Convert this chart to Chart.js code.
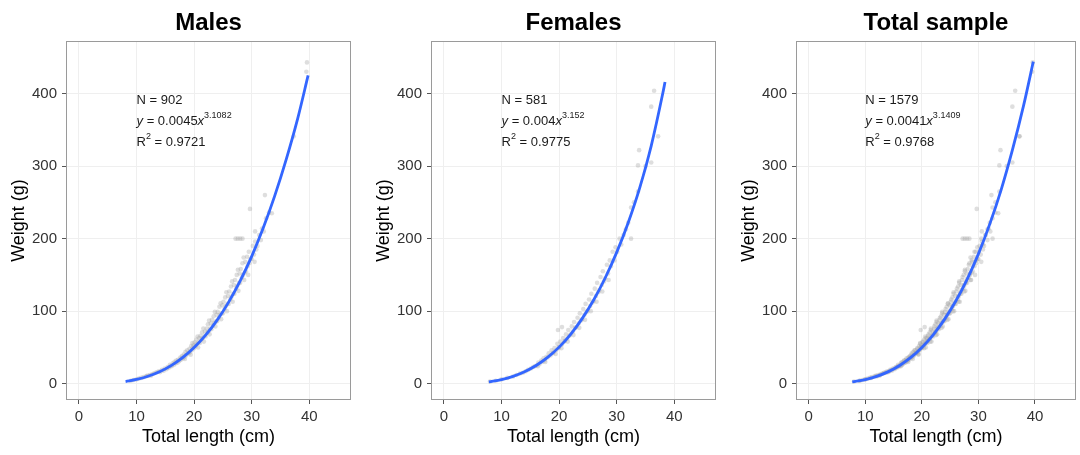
<!DOCTYPE html>
<html>
<head>
<meta charset="utf-8">
<script src="https://cdn.jsdelivr.net/npm/chart.js@4.4.1/dist/chart.umd.min.js"></script>
<style>
body { margin:0; background:#fff; width:1080px; height:455px; overflow:hidden; position:relative; }
canvas { position:absolute; top:0; }
</style>
</head>
<body>
<canvas id="males" width="360" height="455" style="left:0px"></canvas>
<canvas id="females" width="360" height="455" style="left:365px"></canvas>
<canvas id="total" width="350" height="455" style="left:730px"></canvas>
<script>
// ----------------------------------------------------------------------
// length-weight data: [total length cm, weight g]
// ----------------------------------------------------------------------
const xTicks = [0, 10, 20, 30, 40]
const yTicks = [0, 100, 200, 300, 400]

const malePts = [
	[9,4], [9.5,5], [10,6], [10.4,7], [10.8,8], [11.2,9], [11.6,10], [11.8,11], [12,11], [12.3,12],
	[12.5,11], [12.7,13], [13,14], [13.3,15], [13.6,16], [13.9,17],
	[14.1,16], [14.4,19], [14.7,18], [14.9,21],
	[15.2,20], [15.4,23], [15.6,22], [15.8,26], [15.9,24],
	[16.1,24], [16.3,28], [16.5,26], [16.6,30], [16.8,28], [16.9,32],
	[17.1,29], [17.2,33], [17.4,31], [17.6,36], [17.7,33], [17.9,38], [17.8,35],
	[18.1,35], [18.2,40], [18.3,37], [18.5,44], [18.6,39], [18.8,46], [18.9,42], [18.4,34],
	[19.1,42], [19.2,48], [19.3,44], [19.5,52], [19.6,46], [19.7,56], [19.8,50], [19.4,40], [19.9,53],
	[20.0,49], [20.1,57], [20.3,52], [20.4,61], [20.5,55], [20.6,65], [20.8,57], [20.9,63], [20.7,50],
	[21.0,56], [21.1,66], [21.3,61], [21.4,71], [21.5,63], [21.6,76], [21.8,66], [21.9,72], [21.7,58],
	[22.0,65], [22.2,76], [22.3,70], [22.4,82], [22.5,72], [22.6,87], [22.8,76], [22.9,83], [22.7,68],
	[23.0,75], [23.1,88], [23.3,80], [23.4,93], [23.5,84], [23.6,99], [23.8,86], [23.9,95], [23.7,79],
	[24.0,86], [24.1,99], [24.3,91], [24.4,106], [24.5,95], [24.6,111], [24.8,97], [24.9,108], [24.7,89],
	[25.0,97], [25.1,113], [25.3,103], [25.4,119], [25.5,107], [25.6,126], [25.8,110], [25.9,121], [25.7,100],
	[26.0,110], [26.1,127], [26.3,116], [26.4,134], [26.5,120], [26.6,141], [26.8,124], [26.9,136], [26.7,113],
	[27.0,124], [27.1,143], [27.3,131], [27.4,150], [27.5,135], [27.6,157], [27.8,139], [27.9,152], [27.7,128],
	[28.0,139], [28.1,158], [28.3,146], [28.4,166], [28.5,150], [28.6,174], [28.8,153], [28.9,168], [28.7,143],
	[29.0,155], [29.2,175], [29.3,162], [29.5,182], [29.6,166], [29.8,172], [29.4,150],
	[30.0,172], [30.2,190], [30.4,178], [30.6,196], [30.8,185], [30.5,168],
	[31.0,190], [31.3,205], [31.6,198], [31.8,214],
	[32.1,210], [32.5,228], [33.0,236], [33.5,235],
	[27.2,200], [27.6,200], [28,200], [28.4,200], [29.7,241], [32.3,260], [30.6,210],
	[37.3,341], [39.6,443], [39.5,430]
]

const femalePts = [
	[8,3], [9,4], [10,6], [11,8], [12,10], [12.6,12], [13.2,14], [13.7,15], [14.2,17], [14.6,19],
	[15.1,21], [15.5,23], [15.8,24],
	[16.1,25], [16.4,29], [16.6,27], [16.9,32], [16.3,24],
	[17.1,30], [17.3,35], [17.5,32], [17.8,37], [17.6,30],
	[18.0,36], [18.2,42], [18.5,39], [18.7,46], [18.9,42],
	[19.0,43], [19.2,49], [19.5,46], [19.7,55], [19.8,74], [19.9,50], [19.4,41],
	[20.0,50], [20.2,58], [20.5,54], [20.5,78], [20.7,63], [20.9,58], [20.4,49],
	[21.0,59], [21.2,68], [21.4,62], [21.6,74], [21.8,66], [21.5,58],
	[22.0,68], [22.2,79], [22.4,72], [22.6,85], [22.8,77], [22.5,67],
	[23.0,78], [23.2,91], [23.4,83], [23.6,97], [23.8,87], [23.5,77],
	[24.0,89], [24.2,103], [24.4,95], [24.6,110], [24.8,99], [24.5,88],
	[25.0,101], [25.2,116], [25.4,107], [25.6,124], [25.8,112], [25.5,100],
	[26.0,114], [26.2,131], [26.4,121], [26.6,139], [26.8,126], [26.5,113],
	[27.0,129], [27.2,147], [27.4,136], [27.6,155], [27.8,141], [27.5,127],
	[28.0,145], [28.3,164], [28.5,152], [28.8,170], [28.6,143],
	[29.0,162], [29.3,182], [29.6,170], [29.8,188],
	[30.1,182], [30.5,200], [30.8,192],
	[31.2,205], [31.6,213], [32,222],
	[32.5,200], [32.5,243], [33,250],
	[33.7,265], [33.7,301], [33.9,322], [35,300], [36,305], [36,382], [36.5,404], [37.2,341]
]

// total sample = males + females
const totalPts = malePts.concat(femalePts)

// fitted power curves
const maleFitX = [8.1, 10, 12, 14, 16, 18, 20, 22, 24, 26, 28, 30, 32, 34, 36, 38, 39.8]
const maleFitY = [3, 5.8, 10.2, 16.4, 24.9, 35.9, 49.8, 66.9, 87.7, 112.5, 141.7, 175.6, 214.5, 258.9, 309.3, 365.9, 425]
const femaleFitX = [7.8, 10, 12, 14, 16, 18, 20, 22, 24, 26, 28, 30, 32, 34, 36, 38, 38.4]
const femaleFitY = [2.6, 5.7, 10.1, 16.4, 25, 36.2, 50.4, 68.1, 89.7, 115.3, 145.7, 181, 222, 270, 328, 400, 416]
const totalFitX = [7.7, 10, 12, 14, 16, 18, 20, 22, 24, 26, 28, 30, 32, 34, 36, 38, 39.7]
const totalFitY = [2.5, 5.7, 10.1, 16.3, 24.8, 35.9, 50, 67.4, 88.7, 114, 143.9, 179, 220, 267, 322, 384, 444]

const FONT = "'Liberation Sans', Arial, Helvetica, sans-serif"
Chart.defaults.font.family = FONT

// ----------------------------------------------------------------------
// frame, panel title and the N / equation / R2 note
const panelDeco = {
	id: 'panelDeco',
	afterDatasetsDraw (chart, args, opts)
	{
		const ctx = chart.ctx
		const xs = chart.scales.x
		const ys = chart.scales.y
		const x0 = xs.getPixelForValue(opts.noteX)
		const base = opts.noteY.map (v => ys.getPixelForValue(v))
		ctx.save()
		ctx.fillStyle = '#1a1a1a'
		ctx.textBaseline = 'alphabetic'
		ctx.textAlign = 'left'
		const reg = '13px ' + FONT
		const ita = 'italic 13px ' + FONT
		const sup = '9px ' + FONT
		// parts: [text, font, raise]
		const lines = [
			[['N = ' + opts.n, reg, 0]],
			[['y', ita, 0], [' = ' + opts.a, reg, 0], ['x', ita, 0], [opts.b, sup, 7]],
			[['R', reg, 0], ['2', sup, 7], [' = ' + opts.r2, reg, 0]]
		]
		lines.forEach ((parts, i) =>
			{
			let x = x0
			parts.forEach (p =>
				{
				ctx.font = p[1]
				ctx.fillText (p[0], x, base[i] - p[2])
				x += ctx.measureText(p[0]).width
				})
			})
		ctx.restore()
	},
	afterDraw (chart, args, opts)
	{
		const ctx = chart.ctx
		const a = chart.chartArea
		ctx.save()
		ctx.strokeStyle = '#9a9a9a'
		ctx.lineWidth = 1
		ctx.strokeRect (a.left + 0.5, a.top + 0.5, a.right - a.left - 1, a.bottom - a.top - 1)
		ctx.fillStyle = '#000'
		ctx.font = 'bold 24px ' + FONT
		ctx.textAlign = 'center'
		ctx.textBaseline = 'alphabetic'
		ctx.fillText (opts.title, (a.left + a.right) / 2, 30)
		ctx.restore()
	}
}

// ----------------------------------------------------------------------
function make_panel (id, title, pts, fitX, fitY, stats, padRight)
{
	const config = {
		type: 'scatter',
		data: {
			datasets: [
				{
				label: 'fit',
				data: fitX.map ((x, i) => ({x: x, y: fitY[i]})),
				showLine: true,
				borderColor: '#3366FF',
				borderWidth: 2.8,
				pointRadius: 0,
				cubicInterpolationMode: 'monotone',
				order: 0
				},
				{
				label: 'obs',
				data: pts.map (p => ({x: p[0], y: p[1]})),
				pointRadius: 2.3,
				pointBackgroundColor: 'rgba(160,160,160,0.35)',
				pointBorderWidth: 0,
				order: 1
				}
			]
		},
		options: {
			responsive: false,
			animation: false,
			devicePixelRatio: 1,
			events: [],
			layout: {padding: {top: 41, right: padRight, bottom: 0, left: 0}},
			plugins: {
				legend: {display: false},
				tooltip: {enabled: false},
				panelDeco: Object.assign ({title: title, noteX: 10, noteY: [385, 357, 328]}, stats)
			},
			scales: {
				x: {
					type: 'linear',
					min: -2.25,
					max: 47.25,
					afterBuildTicks: s => { s.ticks = xTicks.map (v => ({value: v})) },
					afterFit: s => { s.height = 55 },
					border: {display: false},
					grid: {color: '#efefef', tickColor: '#555', tickLength: 4},
					ticks: {color: '#333', font: {size: 15}, padding: 4, maxRotation: 0},
					title: {display: true, text: 'Total length (cm)', color: '#000',
						font: {size: 18}, padding: {top: 0, bottom: 7}}
				},
				y: {
					type: 'linear',
					min: -22.5,
					max: 472.5,
					afterBuildTicks: s => { s.ticks = yTicks.map (v => ({value: v})) },
					afterFit: s => { s.width = 66 },
					border: {display: false},
					grid: {color: '#efefef', tickColor: '#555', tickLength: 4},
					ticks: {color: '#333', font: {size: 15}, padding: 5},
					title: {display: true, text: 'Weight (g)', color: '#000',
						font: {size: 18}, padding: {top: 8, bottom: 0}}
				}
			}
		},
		plugins: [panelDeco]
	}
	return new Chart (document.getElementById(id), config)
}

// ----------------------------------------------------------------------
make_panel ('males', 'Males', malePts, maleFitX, maleFitY,
	{n: '902', a: '0.0045', b: '3.1082', r2: '0.9721'}, 9)
make_panel ('females', 'Females', femalePts, femaleFitX, femaleFitY,
	{n: '581', a: '0.004', b: '3.152', r2: '0.9775'}, 9)
make_panel ('total', 'Total sample', totalPts, totalFitX, totalFitY,
	{n: '1579', a: '0.0041', b: '3.1409', r2: '0.9768'}, 0)
</script>
</body>
</html>
